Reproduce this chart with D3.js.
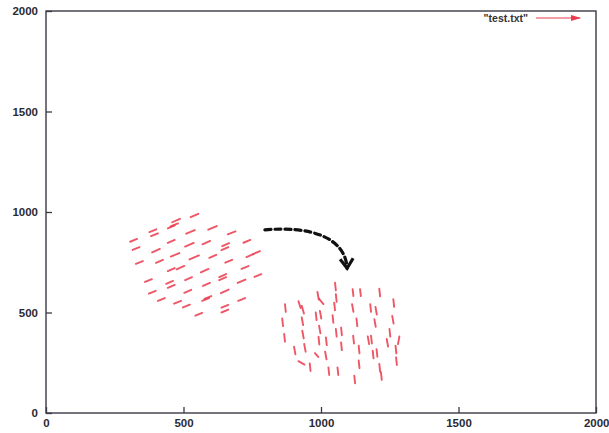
<!DOCTYPE html>
<html><head><meta charset="utf-8">
<script src="https://cdn.jsdelivr.net/npm/d3@7"></script>
<style>body{margin:0;background:#fff}svg{display:block}</style>
</head><body><svg id="c" width="609" height="433"></svg>
<script>
// vector data (gnuplot "with vectors": x y dx dy)
const vecX = [526,459,453,376,382,443,510,590,661,306,443,506,569,641,718,315,386,454,522,638,594,729,753,327,400,443,475,563,652,711,360,437,443,506,571,630,630,697,758,374,407,503,576,568,636,699,466,498,638,638,543,
 1051,1115,1142,1212,987,993,1054,869,918,930,1048,1113,1179,1198,1263,981,996,1042,859,930,1129,1194,1259,932,993,1054,1073,1249,866,991,1018,1073,1117,1170,1182,1239,1285,902,939,978,1015,1137,1188,1202,1271,918,959,1027,1060,1137,1212,1273,1121,1218];
const vecY = [974,949,928,900,880,919,892,912,889,852,846,828,839,830,847,811,799,778,764,810,772,776,791,742,747,706,715,700,748,717,652,643,623,661,632,676,661,647,677,594,558,598,568,558,596,558,544,525,524,500,484,
 648,616,616,618,602,568,591,541,556,533,549,541,541,528,566,500,508,487,470,475,470,467,483,409,434,418,425,418,393,379,376,351,384,381,384,368,381,330,343,298,305,335,310,318,335,258,247,227,227,261,244,277,186,203];
const vecDX = [28,28,27,25,25,25,31,31,28,25,25,31,28,25,25,25,28,31,34,25,25,25,25,25,25,25,28,28,25,25,25,25,25,25,25,25,25,28,25,25,25,25,25,25,28,25,25,25,25,25,25,
 3,3,3,3,5,16,3,3,8,8,3,5,3,5,3,3,5,3,3,5,3,5,5,5,5,3,3,3,3,3,3,3,3,5,3,5,-5,5,5,12,5,3,3,3,3,22,3,3,3,3,3,3,3,3];
const vecDY = [17,17,15,14,14,15,18,18,15,14,15,18,17,15,14,14,17,18,20,15,15,14,14,14,15,15,17,17,14,14,14,14,14,15,15,15,15,17,14,14,14,15,14,14,18,14,14,14,14,14,14,
 -38,-34,-34,-38,-38,-26,-38,-38,-34,-38,-38,-38,-38,-38,-38,-38,-38,-38,-38,-38,-38,-38,-38,-38,-38,-38,-38,-38,-38,-38,-38,-38,-38,-38,-38,-38,-38,-38,-38,-19,-38,-38,-38,-38,-38,-17,-38,-38,-38,-38,-38,-38,-38,-38];
// annotation curve control points (data units)
const noteX = [796, 960, 1088, 1095];
const noteY = [911, 931, 876, 720];
const xTicks = [0, 500, 1000, 1500, 2000];
const yTicks = [0, 500, 1000, 1500, 2000];
const legendLabel = '"test.txt"';

const svg = d3.select('#c');
const L = 46, R = 596, T = 11, B = 413;
const x = d3.scaleLinear().domain([0, 2000]).range([L, R]);
const y = d3.scaleLinear().domain([0, 2000]).range([B, T]);
const red = '#ec3a4c';

// frame
svg.append('rect').attr('x', L).attr('y', T).attr('width', R - L).attr('height', B - T)
  .attr('fill', 'none').attr('stroke', '#3a3a46').attr('stroke-width', 1.4);

// axes
const ax = svg.append('g').attr('transform', `translate(0,${B})`)
  .call(d3.axisBottom(x).tickValues(xTicks).tickSize(-6).tickPadding(6).tickFormat(d3.format('d')));
const ay = svg.append('g').attr('transform', `translate(${L},0)`)
  .call(d3.axisLeft(y).tickValues(yTicks).tickSize(-6).tickPadding(8).tickFormat(d3.format('d')));
[ax, ay].forEach(g => {
  g.select('.domain').remove();
  g.selectAll('line').attr('stroke', '#3a3a46').attr('stroke-width', 1.3);
  g.selectAll('text').attr('font-family', 'Liberation Sans, Arial, sans-serif')
    .attr('font-size', 11.5).attr('fill', '#2a2a35').attr('font-weight', 'bold');
});
ax.selectAll('text').attr('y', 6).attr('dy', '0.71em');
ax.selectAll('.tick').filter(d => d === 2000).select('text').attr('text-anchor', 'end').attr('dx', 13);

// vectors
const idx = d3.range(vecX.length);
svg.append('g').selectAll('line').data(idx).join('line')
  .attr('x1', i => x(vecX[i])).attr('y1', i => y(vecY[i]))
  .attr('x2', i => x(vecX[i] + vecDX[i])).attr('y2', i => y(vecY[i] + vecDY[i]))
  .attr('stroke', red).attr('stroke-width', 1.9).attr('stroke-linecap', 'round').attr('opacity', 0.85);

// dashed annotation arrow
const p = d3.path();
p.moveTo(x(noteX[0]), y(noteY[0]));
p.bezierCurveTo(x(noteX[1]), y(noteY[1]), x(noteX[2]), y(noteY[2]), x(noteX[3]), y(noteY[3]));
svg.append('path').attr('d', p.toString()).attr('fill', 'none').attr('stroke', '#111')
  .attr('stroke-width', 3.2).attr('stroke-dasharray', '6,4').attr('stroke-linecap', 'round');
const tx = x(noteX[3]), ty = y(noteY[3]);
svg.append('path').attr('d', `M${tx - 7},${ty - 9} L${tx},${ty} L${tx + 6},${ty - 10}`)
  .attr('fill', 'none').attr('stroke', '#111').attr('stroke-width', 3.2).attr('stroke-linejoin', 'miter');

// legend
svg.append('text').attr('x', 528).attr('y', 22).attr('text-anchor', 'end')
  .attr('font-family', 'Liberation Sans, Arial, sans-serif').attr('font-size', 10.5)
  .attr('fill', '#333').attr('font-weight', 'bold').text(legendLabel);
svg.append('line').attr('x1', 536).attr('y1', 18).attr('x2', 580).attr('y2', 18)
  .attr('stroke', red).attr('stroke-width', 1.2);
svg.append('path').attr('d', 'M571,15 L581,18 L571,21 Z').attr('fill', red);
</script></body></html>
